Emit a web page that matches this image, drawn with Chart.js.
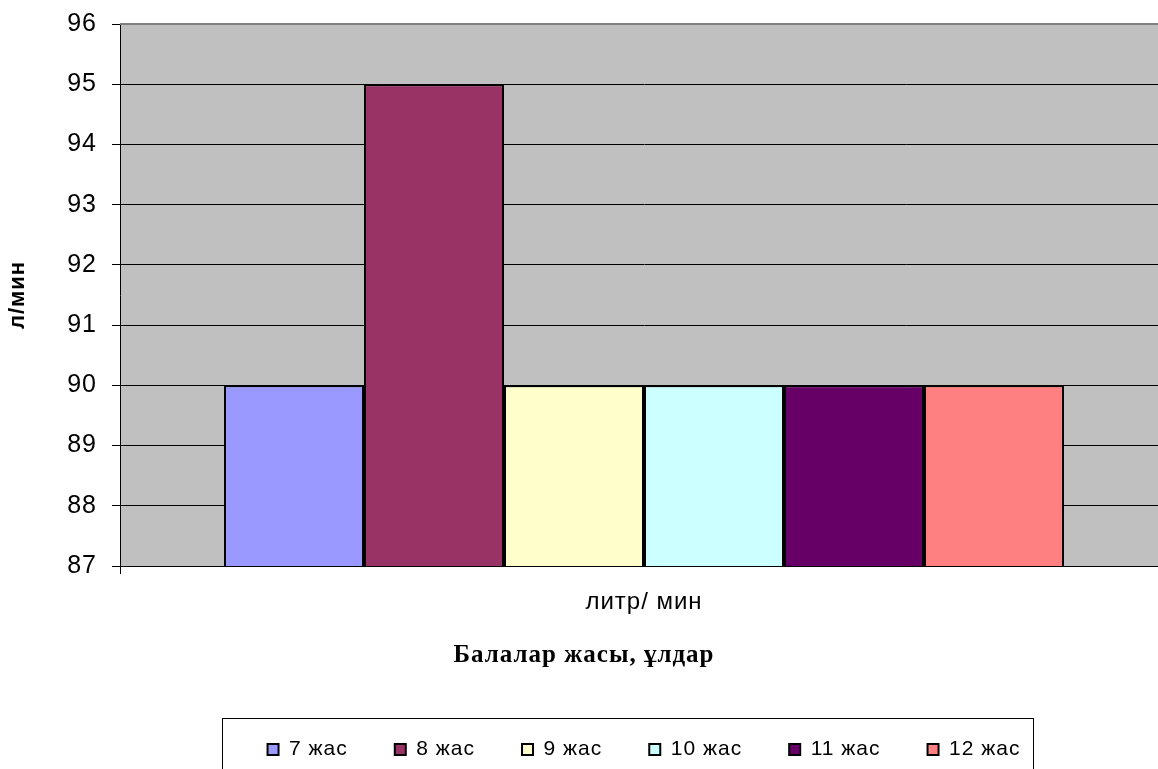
<!DOCTYPE html>
<html>
<head>
<meta charset="utf-8">
<script src="https://cdn.jsdelivr.net/npm/chart.js@4/dist/chart.umd.min.js"></script>
<style>
  html, body { margin: 0; padding: 0; overflow: hidden; background: #ffffff; }
  #wrap { position: relative; width: 1168px; height: 800px; }
</style>
</head>
<body>
<div id="wrap"><canvas id="chart"></canvas></div>
<script>
// Category and series data
const categories = ['литр/ мин'];
const ageLabels = ['7 жас', '8 жас', '9 жас', '10 жас', '11 жас', '12 жас'];
const flowValues = [90, 95, 90, 90, 90, 90];
const barColors = ['#9999FF', '#993366', '#FFFFCC', '#CCFFFF', '#660066', '#FF8080'];
const yMin = 87;
const yMax = 96;
const yStep = 1;
const yAxisTitle = 'л/мин';
const chartTitle = 'Балалар жасы, ұлдар';

const SANS = "'Liberation Sans', Arial, sans-serif";
const SERIF = "'Liberation Serif', 'Times New Roman', serif";
const LETTER_SPACING = '1px';

// Slightly spaced-out lettering for every text on the canvas
const spacing = {
  id: 'spacing',
  beforeUpdate(chart) { chart.ctx.letterSpacing = LETTER_SPACING; },
  beforeLayout(chart) { chart.ctx.letterSpacing = LETTER_SPACING; },
  beforeDraw(chart) { chart.ctx.letterSpacing = LETTER_SPACING; }
};

// Grey plot background, darker top edge and a frame round the legend
const plotFrame = {
  id: 'plotFrame',
  beforeDraw(chart) {
    const { ctx, chartArea: a } = chart;
    ctx.save();
    ctx.fillStyle = '#C0C0C0';
    ctx.fillRect(a.left, a.top, a.right - a.left, a.bottom - a.top);
    ctx.restore();
  },
  afterDraw(chart) {
    const { ctx, chartArea: a } = chart;
    ctx.save();
    ctx.strokeStyle = '#808080';
    ctx.lineWidth = 2;
    ctx.beginPath();
    ctx.moveTo(a.left, a.top);
    ctx.lineTo(a.right, a.top);
    ctx.stroke();
    const boxes = chart.legend.legendHitBoxes;
    if (boxes && boxes.length) {
      const l = Math.min(...boxes.map(b => b.left)) - 46;
      const r = Math.max(...boxes.map(b => b.left + b.width)) + 12;
      const cy = boxes[0].top + boxes[0].height / 2;
      ctx.strokeStyle = '#000000';
      ctx.lineWidth = 1;
      ctx.strokeRect(Math.round(l) + 0.5, Math.round(cy - 32) + 0.5, Math.round(r - l), 64);
    }
    ctx.restore();
  }
};

new Chart(document.getElementById('chart'), {
  type: 'bar',
  data: {
    labels: categories,
    datasets: ageLabels.map((name, i) => ({
      label: name,
      data: [flowValues[i]],
      backgroundColor: barColors[i],
      borderColor: '#000000',
      borderWidth: 2,
      borderSkipped: false,
      categoryPercentage: 0.8015,
      barPercentage: 1.0
    }))
  },
  options: {
    responsive: true,
    maintainAspectRatio: false,
    animation: false,
    layout: { padding: { top: 24, left: 0, right: 0, bottom: 30 } },
    scales: {
      x: {
        afterFit(scale) { scale.height = 60; },
        grid: { display: true, drawOnChartArea: false, color: '#000000', tickLength: 8, offset: true },
        border: { color: '#000000', width: 1 },
        ticks: { color: '#000000', font: { family: SANS, size: 24 }, padding: 14 }
      },
      y: {
        min: yMin,
        max: yMax,
        afterFit(scale) {
          scale.width = 120;
          scale.paddingTop = 0;
          scale.paddingBottom = 0;
        },
        grid: {
          color: ctx => (ctx.tick && ctx.tick.value === yMax ? '#808080' : '#000000'),
          tickColor: '#000000',
          tickLength: 8,
          lineWidth: 1
        },
        border: { color: '#000000', width: 1 },
        ticks: { stepSize: yStep, color: '#000000', font: { family: SANS, size: 25 }, padding: 15 },
        title: {
          display: true,
          text: yAxisTitle,
          color: '#000000',
          font: { family: SANS, size: 22, weight: 'bold' },
          padding: { top: 5, bottom: 0 }
        }
      }
    },
    plugins: {
      title: {
        display: true,
        text: chartTitle,
        position: 'bottom',
        weight: 500,
        color: '#000000',
        font: { family: SERIF, size: 25, weight: 'bold' },
        padding: { top: 15, bottom: 21 }
      },
      legend: {
        position: 'bottom',
        fullSize: false,
        labels: {
          color: '#000000',
          font: { family: SANS, size: 21 },
          boxWidth: 11,
          boxHeight: 11,
          padding: 47
        }
      },
      tooltip: { enabled: false }
    }
  },
  plugins: [spacing, plotFrame]
});
</script>
</body>
</html>
